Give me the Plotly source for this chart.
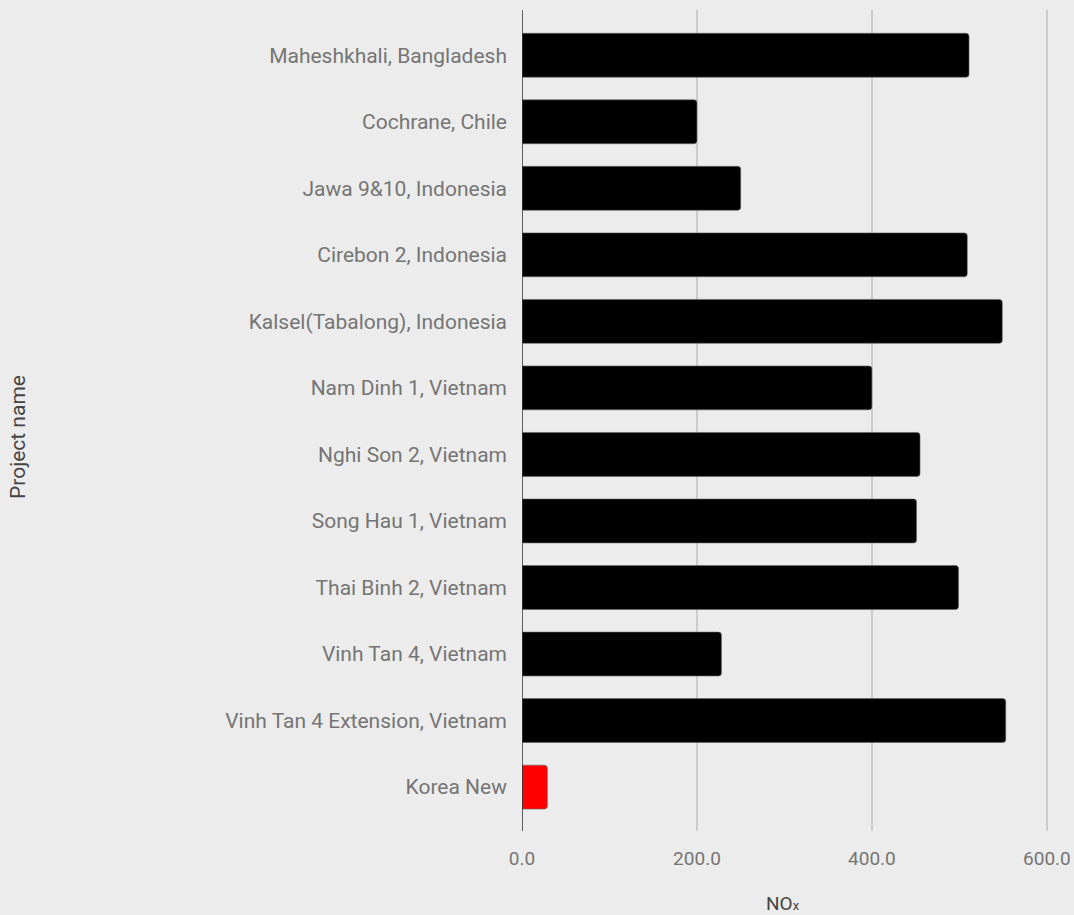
import plotly.graph_objects as go

# Данные
projects = [
    "Maheshkhali, Bangladesh",
    "Cochrane, Chile",
    "Jawa 9&10, Indonesia",
    "Cirebon 2, Indonesia",
    "Kalsel(Tabalong), Indonesia",
    "Nam Dinh 1, Vietnam",
    "Nghi Son 2, Vietnam",
    "Song Hau 1, Vietnam",
    "Thai Binh 2, Vietnam",
    "Vinh Tan 4, Vietnam",
    "Vinh Tan 4 Extension, Vietnam",
    "Korea New",
]
nox_values = [511, 200, 250, 509, 549, 400, 455, 451, 499, 228, 553, 29]
x_ticks = [0, 200, 400, 600]
x_tick_labels = ["0.0", "200.0", "400.0", "600.0"]

BG = "#ececec"
FONT = "Roboto"

bar_colors = ["#ff0000" if p == "Korea New" else "#000000" for p in projects]

fig = go.Figure()

fig.add_trace(go.Bar(
    x=nox_values,
    y=projects,
    orientation="h",
    marker=dict(color=bar_colors, line=dict(color="#666666", width=0.6),
                cornerradius=3),
    showlegend=False,
))

fig.update_layout(
    width=1074,
    height=915,
    margin=dict(l=522, r=0, t=10, b=84),
    paper_bgcolor=BG,
    plot_bgcolor=BG,
    bargap=0.34,
    font=dict(family=FONT, size=19, color="#757575"),
    xaxis=dict(
        range=[0, 631],
        tickvals=x_ticks,
        ticktext=x_tick_labels,
        showgrid=True,
        gridcolor="#cccccc",
        gridwidth=1.5,
        zeroline=False,
        showline=False,
        ticklabelstandoff=14,
        tickfont=dict(size=19, color="#757575"),
    ),
    yaxis=dict(
        range=[11.66, -0.68],
        showgrid=False,
        zeroline=False,
        showline=False,
        ticklabelstandoff=14,
        tickfont=dict(size=21, color="#757575"),
    ),
    shapes=[dict(
        type="line", xref="x", yref="paper",
        x0=0, x1=0, y0=0, y1=1,
        line=dict(color="#333333", width=1.5),
    )],
    annotations=[
        dict(text="NO<span style='font-size:13px'>x</span>",
             xref="paper", yref="paper",
             x=(783 - 522) / 552, y=-(903 - 831) / 821,
             xanchor="center", yanchor="middle", showarrow=False,
             font=dict(family=FONT, size=19, color="#444444")),
        dict(text="Project name", xref="paper", yref="paper",
             x=(18 - 522) / 552, y=1 - (437 - 10) / 821,
             xanchor="center", yanchor="middle", showarrow=False,
             textangle=-90,
             font=dict(family=FONT, size=21, color="#444444")),
    ],
)

fig.write_html("out.html", config={"displayModeBar": False})

# убрать отступ body, чтобы график занимал всё окно
with open("out.html", encoding="utf-8") as f:
    html = f.read()
html = html.replace("<head>", "<head><style>body{margin:0;overflow:hidden;}</style>", 1)
with open("out.html", "w", encoding="utf-8") as f:
    f.write(html)
